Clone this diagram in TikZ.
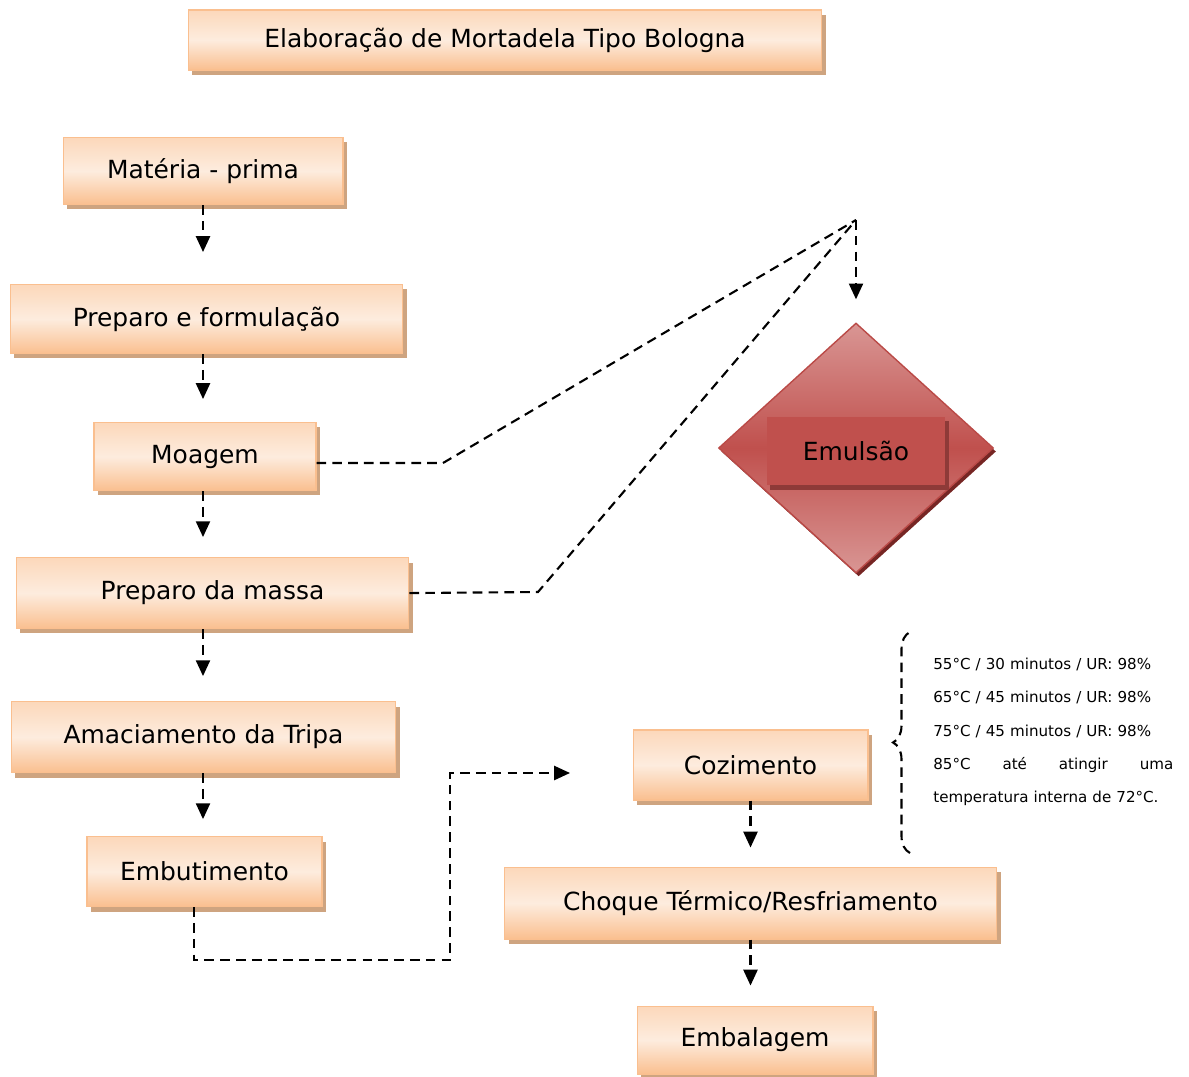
\documentclass[tikz,border=0pt]{standalone}
\usepackage{fontspec}
\setmainfont{DejaVu Sans}
\usetikzlibrary{positioning,shapes.geometric,shadows,arrows.meta,decorations.pathreplacing}
\definecolor{peach}{RGB}{250,191,143}
\definecolor{cream}{RGB}{253,236,222}
\definecolor{boxshade}{RGB}{206,164,128}
\definecolor{redmid}{RGB}{192,80,77}
\definecolor{redlight}{RGB}{217,150,148}
\definecolor{rededge}{RGB}{186,74,71}
\definecolor{redshade}{RGB}{118,38,36}
\definecolor{rectshade}{RGB}{142,58,56}

\begin{document}
\begin{tikzpicture}[x=0.02cm, y=-0.02cm,
	box/.style={rectangle, draw=peach, line width=0.6pt,
	top color=peach!45!cream, bottom color=peach, middle color=cream,
	font=\fontsize{14.2}{17}\selectfont, inner sep=0pt,
	drop shadow={shadow xshift=2.4pt, shadow yshift=-2.8pt, fill=boxshade, opacity=1}},
	flow/.style={-{Triangle[width=8pt,length=9pt]}, line width=1.2pt,
	dash pattern=on 5.5pt off 3.5pt},
	dline/.style={line width=1.2pt, dash pattern=on 5.5pt off 3.5pt},
	note/.style={font=\fontsize{8.6}{19}\selectfont, text width=4.8cm,
	align=left, inner sep=0pt}
	]
	\useasboundingbox (0,0) rectangle (1189,1077);

	\node[box, minimum width=12.68cm, minimum height=1.2cm] (title) at (505,40)
		{Elaboração de Mortadela Tipo Bologna};

	% left column
	\node[box, minimum width=5.6cm, minimum height=1.34cm] (mat) at (203,171) {Matéria - prima};
	\node[box, minimum width=7.86cm, minimum height=1.38cm] (prep) [below=1.58cm of mat, xshift=0.07cm] {Preparo e formulação};
	\node[box, minimum width=4.44cm, minimum height=1.36cm] (moag) [below=1.36cm of prep, xshift=-0.03cm] {Moagem};
	\node[box, minimum width=7.86cm, minimum height=1.42cm] (massa) [below=1.32cm of moag, xshift=0.15cm] {Preparo da massa};
	\node[box, minimum width=7.7cm, minimum height=1.42cm] (amac) [below=1.44cm of massa, xshift=-0.18cm] {Amaciamento da Tripa};
	\node[box, minimum width=4.7cm, minimum height=1.4cm] (embut) [below=1.26cm of amac, xshift=0.02cm] {Embutimento};

	% right column
	\node[box, minimum width=4.7cm, minimum height=1.4cm] (coz) at (750.5,765) {Cozimento};
	\node[box, minimum width=9.84cm, minimum height=1.44cm] (choque) [below=1.32cm of coz] {Choque Térmico/Resfriamento};
	\node[box, minimum width=4.72cm, minimum height=1.36cm] (emb) [below=1.32cm of choque, xshift=0.09cm] {Embalagem};

	% emulsion
	\node[diamond, minimum width=5.5cm, minimum height=5cm, inner sep=0pt,
		draw=rededge, line width=0.8pt,
		top color=redlight, bottom color=redlight, middle color=redmid,
		drop shadow={shadow xshift=1.5pt, shadow yshift=-2pt, fill=redshade, opacity=1}]
		(emul) at (856,448) {};
	\node[rectangle, fill=redmid, minimum width=3.58cm, minimum height=1.38cm,
		font=\fontsize{14.2}{17}\selectfont,
		drop shadow={shadow xshift=2pt, shadow yshift=-2.4pt, fill=rectshade, opacity=1}]
		(emtxt) at (856,451) {Emulsão};

	\coordinate (hub) at (856,220);
	\coordinate (bendA) at (443,463);
	\coordinate (bendB) at (538,592);
	\coordinate (low) at (450,960);
	\coordinate (cozIn) at (570,773);

	\draw[flow, shorten >=0.64cm] (mat.south) -- (mat.south |- prep.north);
	\draw[flow, shorten >=0.46cm] (prep.south -| mat.south) -- (mat.south |- moag.north);
	\draw[flow, shorten >=0.4cm] (moag.south -| mat.south) -- (mat.south |- massa.north);
	\draw[flow, shorten >=0.5cm] (massa.south -| mat.south) -- (mat.south |- amac.north);
	\draw[flow, shorten >=0.34cm] (amac.south -| mat.south) -- (mat.south |- embut.north);
	\draw[flow, shorten >=0.38cm] (coz.south) -- (coz.south |- choque.north);
	\draw[flow, shorten >=0.4cm] (choque.south -| coz.south) -- (coz.south |- emb.north);

	\draw[dline] (moag.east |- bendA) -- (bendA) -- (hub);
	\draw[dline] (massa.east) -- (bendB) -- (hub);
	\draw[flow, shorten >=0.46cm] (hub) -- (emul.north);
	\draw[flow] ([xshift=-0.21cm]embut.south) |- (low) |- (cozIn);

	% cooking notes
	\coordinate (brB) at (910,853);
	\coordinate (brT) at (910,632);
	\draw[dline, decorate, decoration={brace, amplitude=0.34cm}] (brB) -- (brT);
	\node[note, anchor=west] (cozInfo) at (933,732)
		{55°C / 30 minutos / UR: 98\%\\
		65°C / 45 minutos / UR: 98\%\\
		75°C / 45 minutos / UR: 98\%\\
		85°C\hfill até\hfill atingir\hfill uma\\
		temperatura interna de 72°C.};
\end{tikzpicture}
\end{document}
